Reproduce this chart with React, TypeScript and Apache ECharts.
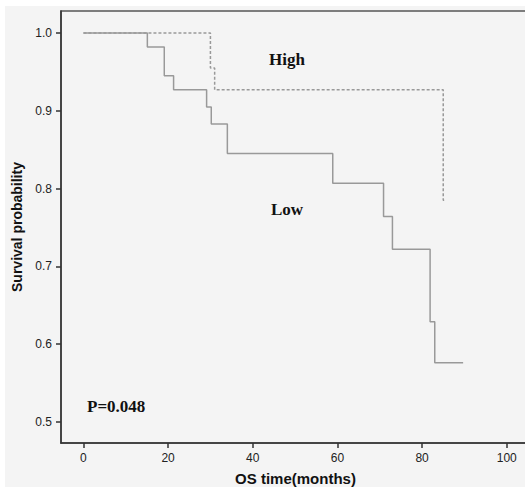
import React, { useEffect, useRef } from "react";
import * as echarts from "echarts";

const lowTimes = [0, 15.1, 19.1, 21.3, 29.1, 30.2, 34.0, 58.9, 70.9, 73.0, 81.9, 83.0, 89.7];
const lowSurv = [1.0, 0.982, 0.945, 0.927, 0.905, 0.883, 0.845, 0.807, 0.764, 0.722, 0.629, 0.576, 0.576];
const highTimes = [0, 30.0, 31.0, 85.0, 85.6];
const highSurv = [1.0, 0.955, 0.927, 0.785, 0.785];
const xTicks = [0, 20, 40, 60, 80, 100];
const yTicks = [0.5, 0.6, 0.7, 0.8, 0.9, 1.0];

export default function App() {
  const ref = useRef<HTMLDivElement>(null);
  useEffect(() => {
    if (!ref.current) return;
    const chart = echarts.init(ref.current, null, { renderer: "svg" });
    const low = lowTimes.map((t, i) => [t, lowSurv[i]]);
    const high = highTimes.map((t, i) => [t, highSurv[i]]);
    const axisColor = "#333";
    chart.setOption({
      animation: false,
      backgroundColor: "transparent",
      grid: {
        left: 61,
        top: 11,
        width: 469,
        height: 432,
        outerBoundsMode: "none",
        containLabel: false,
        show: true,
        borderColor: "#555",
        borderWidth: 1.5,
        backgroundColor: "transparent",
      },
      xAxis: {
        type: "value",
        min: -5.3,
        max: 105.5,
        name: "OS time(months)",
        nameLocation: "middle",
        nameGap: 28,
        nameTextStyle: {
          fontFamily: "Liberation Sans, Arial, sans-serif",
          fontWeight: "bold",
          fontSize: 15,
          color: "#111",
        },
        splitLine: { show: false },
        axisLine: { show: true, onZero: false, lineStyle: { color: axisColor, width: 1.5 } },
        axisTick: {
          show: true,
          customValues: xTicks,
          length: 5,
          lineStyle: { color: axisColor, width: 1.5 },
        },
        axisLabel: {
          customValues: xTicks,
          fontFamily: "Liberation Sans, Arial, sans-serif",
          fontSize: 12,
          color: "#222",
          margin: 9,
          showMinLabel: true,
          showMaxLabel: true,
        },
      },
      yAxis: {
        type: "value",
        min: 0.473,
        max: 1.0283,
        name: "Survival probability",
        nameLocation: "middle",
        nameRotate: 90,
        nameGap: 31,
        nameTextStyle: {
          fontFamily: "Liberation Sans, Arial, sans-serif",
          fontWeight: "bold",
          fontSize: 14,
          color: "#111",
        },
        splitLine: { show: false },
        axisLine: { show: true, onZero: false, lineStyle: { color: axisColor, width: 1.5 } },
        axisTick: {
          show: true,
          customValues: yTicks,
          length: 5,
          lineStyle: { color: axisColor, width: 1.5 },
        },
        axisLabel: {
          customValues: yTicks,
          formatter: (v: number) => v.toFixed(1),
          fontFamily: "Liberation Sans, Arial, sans-serif",
          fontSize: 12,
          color: "#222",
          margin: 9,
        },
      },
      series: [
        {
          name: "Low",
          type: "line",
          step: "end",
          data: low,
          showSymbol: false,
          lineStyle: { color: "#999", width: 1.5, type: "solid" },
        },
        {
          name: "High",
          type: "line",
          step: "end",
          data: high,
          showSymbol: false,
          lineStyle: { color: "#999", width: 1.5, type: [3, 2] },
        },
      ],
      graphic: [
        {
          type: "text",
          left: 269,
          top: 51,
          style: {
            text: "High",
            font: "bold 17px 'Liberation Serif', 'Times New Roman', serif",
            fill: "#111",
          },
        },
        {
          type: "text",
          left: 271,
          top: 201,
          style: {
            text: "Low",
            font: "bold 17px 'Liberation Serif', 'Times New Roman', serif",
            fill: "#111",
          },
        },
        {
          type: "text",
          left: 87,
          top: 398,
          style: {
            text: "P=0.048",
            font: "bold 17px 'Liberation Serif', 'Times New Roman', serif",
            fill: "#111",
          },
        },
      ],
    });
    return () => chart.dispose();
  }, []);
  return (
    <div style={{ position: "absolute", left: 0, top: 0, width: 525, height: 487, background: "#fff", overflow: "hidden" }}>
      <div style={{ position: "absolute", left: 5, top: 6, width: 520, height: 481, background: "#f4f4f4" }} />
      <div ref={ref} style={{ position: "absolute", left: 0, top: 0, width: 525, height: 487 }} />
    </div>
  );
}
